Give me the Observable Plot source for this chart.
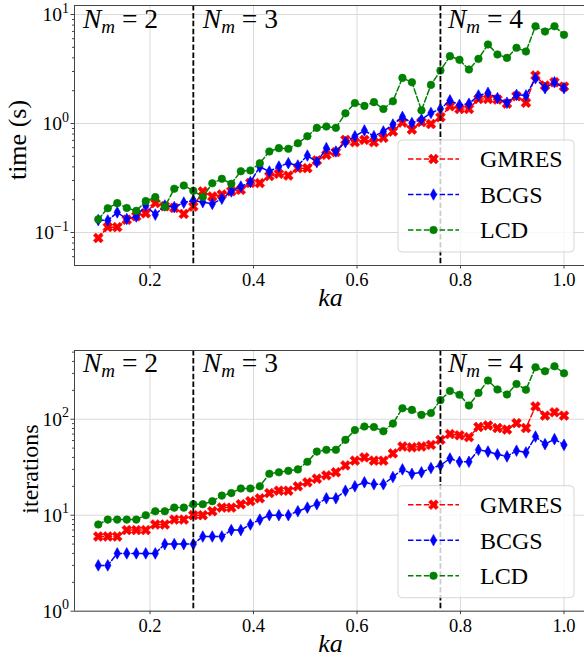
<!DOCTYPE html>
<html><head><meta charset="utf-8">
<script src="https://cdn.jsdelivr.net/npm/d3@7"></script>
<script src="https://cdn.jsdelivr.net/npm/@observablehq/plot@0.6"></script>
<style>
html,body{margin:0;padding:0;background:#fff;}
#chart{width:584px;height:660px;position:relative;overflow:hidden;}
#chart svg{display:block;}
#chart svg text{font-family:'Liberation Serif','DejaVu Serif',serif;}
</style></head><body><div id="chart"></div>
<script>
const ka = [0.1000,0.1184,0.1367,0.1551,0.1735,0.1918,0.2102,0.2286,0.2469,0.2653,
  0.2837,0.3020,0.3204,0.3388,0.3571,0.3755,0.3939,0.4122,0.4306,0.4490,
  0.4673,0.4857,0.5041,0.5224,0.5408,0.5592,0.5776,0.5959,0.6143,0.6327,
  0.6510,0.6694,0.6878,0.7061,0.7245,0.7429,0.7612,0.7796,0.7980,0.8163,
  0.8347,0.8531,0.8714,0.8898,0.9082,0.9265,0.9449,0.9633,0.9816,1.0000];

const timeGMRES = [0.089,0.112,0.112,0.131,0.141,0.150,0.186,0.174,0.168,0.148,
  0.173,0.238,0.214,0.223,0.239,0.246,0.285,0.284,0.329,0.345,
  0.333,0.389,0.389,0.458,0.516,0.546,0.708,0.674,0.708,0.674,
  0.739,0.845,1.02,0.88,1.03,0.99,1.14,1.44,1.36,1.36,
  1.68,1.68,1.66,1.52,1.78,1.55,2.76,2.23,2.39,2.18];
const timeBCGS = [0.130,0.129,0.153,0.133,0.140,0.177,0.146,0.177,0.171,0.188,
  0.197,0.190,0.183,0.204,0.238,0.264,0.290,0.400,0.363,0.403,
  0.432,0.412,0.508,0.442,0.594,0.554,0.674,0.765,0.863,0.765,
  0.845,0.979,1.15,1.01,1.09,1.25,1.36,1.63,1.48,1.52,
  1.81,1.91,1.71,1.55,1.83,1.81,2.60,2.11,2.39,2.11];
const timeLCD = [0.132,0.167,0.186,0.168,0.158,0.194,0.211,0.172,0.252,0.270,
  0.241,0.212,0.283,0.311,0.280,0.365,0.371,0.432,0.554,0.594,
  0.586,0.659,0.765,0.912,0.939,0.912,1.24,1.54,1.45,1.57,
  1.36,1.60,2.62,2.39,1.32,2.26,3.06,4.15,3.84,3.13,
  3.92,5.31,4.30,4.00,4.95,4.58,7.81,6.98,7.81,6.51];

const iterGMRES = [6,6,6,7,7,7,8,8,9,9,
  10,10,11,12,12,13,14,15,17,18,
  18,20,22,24,26,28,33,37,40,37,
  37,44,52,51,52,54,61,70,68,65,
  83,86,81,78,91,81,136,109,118,109];
const iterBCGS = [3,3,4,4,4,4,4,5,5,5,
  5,6,6,6,7,7,8,9,10,10,
  10,11,12,13,15,15,18,20,22,21,
  21,25,30,27,28,31,33,39,36,36,
  48,46,43,41,47,45,66,55,62,54];
const iterLCD = [8,9,9,9,9,10,11,11,12,12,
  13,13,14,16,17,19,19,20,27,28,
  29,30,36,46,48,48,61,77,84,83,
  75,90,130,125,111,116,158,197,180,139,
  188,253,204,181,233,203,348,316,356,301];

const seriesNames = ["GMRES","BCGS","LCD"];
const seriesColors = ["#ff0000","#0000ff","#008000"];
const xTicks = [0.2,0.4,0.6,0.8,1.0];
const xDomain = [0.0541,1.0396];
const nmBoundaries = [0.2837,0.7612];
const nmLabels = ["2","3","4"];
const timeMajor = [0.1,1,10];
const timeMinor = [0.06,0.07,0.08,0.09,0.2,0.3,0.4,0.5,0.6,0.7,0.8,0.9,2,3,4,5,6,7,8,9];
const iterMajor = [1,10,100];
const iterMinor = [2,3,4,5,6,7,8,9,20,30,40,50,60,70,80,90,200,300,400,500];

const FONT = "'Liberation Serif','DejaVu Serif',serif";

function polySymbol(pts){
  return {draw(ctx,size){
    const r = Math.sqrt(size/Math.PI);
    pts.forEach(([x,y],i)=> i ? ctx.lineTo(x*r,y*r) : ctx.moveTo(x*r,y*r));
    ctx.closePath();
  }};
}
const a = 1.3, t = 0.44;
const plusPts = [[t,-a],[t,-t],[a,-t],[a,t],[t,t],[t,a],[-t,a],[-t,t],[-a,t],[-a,-t],[-t,-t],[-t,-a]];
const c45 = Math.SQRT1_2;
const symX = polySymbol(plusPts.map(([x,y])=>[c45*(x-y), c45*(x+y)]));
const symThinDiamond = polySymbol([[0,-1.45],[0.8,0],[0,1.45],[-0.8,0]]);
const symCircle = {draw(ctx,size){const r=Math.sqrt(size/Math.PI)*0.95; ctx.moveTo(r,0); ctx.arc(0,0,r,0,2*Math.PI);}};
const symbols = [symX, symThinDiamond, symCircle];
const R = 4;

function panel(o){
  const rows = [];
  o.values.forEach((vals,s)=> vals.forEach((v,i)=> rows.push({ka:ka[i], v, s})));
  const marks = [
    Plot.gridX(xTicks, {stroke:"#dadada", strokeOpacity:1, strokeWidth:1}),
    Plot.gridY(o.major, {stroke:"#dadada", strokeOpacity:1, strokeWidth:1})
  ];
  seriesNames.forEach((name,s)=>{
    const data = rows.filter(d=>d.s===s);
    marks.push(Plot.line(data, {x:"ka", y:"v", stroke:seriesColors[s], strokeWidth:1.5, strokeDasharray:"5.5,2.4"}));
    marks.push(Plot.dot(data, {x:"ka", y:"v", symbol:symbols[s], r:R, fill:seriesColors[s], stroke:seriesColors[s], strokeWidth:0.6}));
  });
  marks.push(Plot.ruleX(nmBoundaries, {stroke:"black", strokeWidth:1.8, strokeDasharray:"5.5,2.4"}));
  marks.push(Plot.ruleY([o.domain[0], o.domain[1]], {stroke:"#444", strokeWidth:1}));
  marks.push(Plot.ruleX([xDomain[0]], {stroke:"#444", strokeWidth:1}));
  marks.push(Plot.axisX({ticks:xTicks, tickSize:3.5, tickPadding:4, tickFormat:d3.format(".1f"), label:null, fontSize:18.5, fontFamily:FONT, stroke:"#444"}));
  marks.push(Plot.axisY({ticks:o.major, tickSize:3.5, tickFormat:()=>"", label:null, stroke:"#444"}));
  marks.push(Plot.axisY({ticks:o.minor, tickSize:2, tickFormat:()=>"", label:null, stroke:"#444"}));

  const svg = Plot.plot({
    width:584, height:330, marginLeft:74, marginRight:0, marginTop:o.mt, marginBottom:o.mb,
    style:{fontFamily:FONT, fontSize:"18px", color:"black", background:"white", overflow:"visible"},
    x:{domain:xDomain}, y:{type:"log", domain:o.domain},
    marks
  });
  const sx = svg.scale("x"), sy = svg.scale("y");
  const g = d3.select(svg).append("g").attr("font-family", FONT).attr("fill","black").attr("text-anchor","start");
  const fTop = sy.apply(o.domain[1]), fBot = sy.apply(o.domain[0]);
  const fLeft = sx.apply(xDomain[0]);

  // y tick labels with superscripts
  o.major.forEach(v=>{
    const e = Math.round(Math.log10(v));
    const txt = g.append("text").attr("x", fLeft-5).attr("y", sy.apply(v)+7)
      .attr("text-anchor","end").attr("font-size",19.5);
    txt.append("tspan").text("10");
    txt.append("tspan").attr("dy",-8.5).attr("font-size",14).text(e<0 ? "\u2212"+(-e) : String(e));
  });

  // N_m annotations
  const nmX = [fLeft+9, sx.apply(nmBoundaries[0])+10, sx.apply(nmBoundaries[1])+8];
  nmLabels.forEach((lab,k)=>{
    const txt = g.append("text").attr("x", nmX[k]).attr("y", fTop+o.nmDy).attr("font-size",27.5).attr("text-anchor","start");
    txt.append("tspan").attr("font-style","italic").text("N");
    txt.append("tspan").attr("font-style","italic").attr("font-size",19).attr("dy",5).text("m");
    txt.append("tspan").attr("dy",-5).text(" = " + lab);
  });

  // axis labels
  g.append("text").attr("x", (fLeft+587)/2).attr("y", fBot+41).attr("text-anchor","middle")
    .attr("font-size",26).attr("font-style","italic").text("ka");
  g.append("text").attr("transform",`translate(${o.ylx},${o.ylc}) rotate(-90)`)
    .attr("text-anchor","middle").attr("font-size",o.ylSize).text(o.ylabel);

  // legend
  const lg = g.append("g");
  const bx = 398, by = fBot-125, bw = 176, bh = 112;
  lg.append("rect").attr("x",bx).attr("y",by).attr("width",bw).attr("height",bh).attr("rx",4)
    .attr("fill","white").attr("fill-opacity",0.8).attr("stroke","#cccccc").attr("stroke-opacity",0.8);
  seriesNames.forEach((name,s)=>{
    const yy = by + 19 + s*35.5;
    lg.append("line").attr("x1",bx+10).attr("x2",bx+61).attr("y1",yy).attr("y2",yy)
      .attr("stroke",seriesColors[s]).attr("stroke-width",1.5).attr("stroke-dasharray","5.5,2.4");
    lg.append("path").attr("transform",`translate(${bx+35.5},${yy})`)
      .attr("d", d3.symbol(symbols[s], Math.PI*R*R)())
      .attr("fill",seriesColors[s]).attr("stroke",seriesColors[s]).attr("stroke-width",0.6);
    lg.append("text").attr("x",bx+82).attr("y",yy).attr("dy","0.35em").attr("font-size",24)
      .attr("text-anchor","start").text(name);
  });
  return svg;
}

const chart = document.getElementById("chart");
chart.appendChild(panel({
  values:[timeGMRES,timeBCGS,timeLCD], domain:[0.0498,12.1], major:timeMajor, minor:timeMinor,
  mt:5, mb:65, ylabel:"time (s)", ylx:26, ylc:140, ylSize:26, nmDy:23
}));
chart.appendChild(panel({
  values:[iterGMRES,iterBCGS,iterLCD], domain:[1,520], major:iterMajor, minor:iterMinor,
  mt:20, mb:49.3, ylabel:"iterations", ylx:38, ylc:139, ylSize:24, nmDy:22
}));
</script></body></html>
